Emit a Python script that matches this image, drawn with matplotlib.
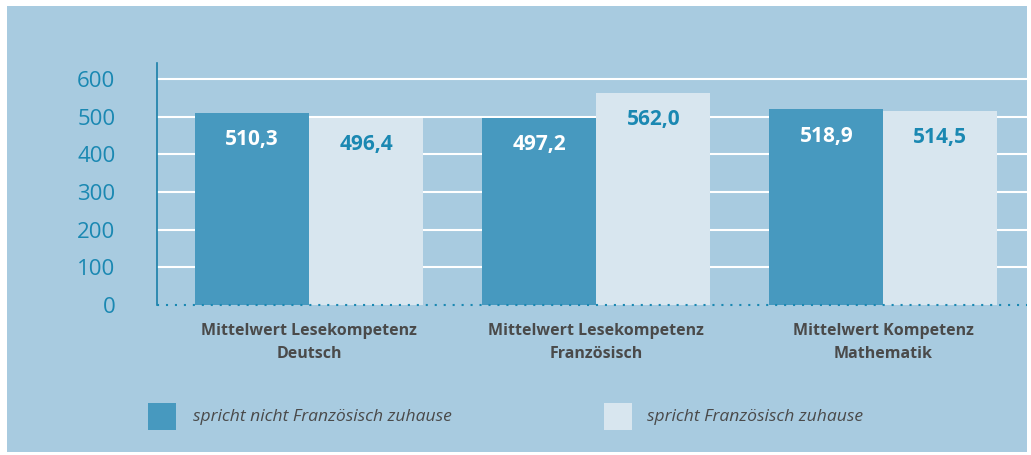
import matplotlib.pyplot as plt
import numpy as np
from matplotlib.patches import Rectangle

categories = ['Mittelwert Lesekompetenz\nDeutsch',
              'Mittelwert Lesekompetenz\nFranzösisch',
              'Mittelwert Kompetenz\nMathematik']
nicht_franz = [510.3, 497.2, 518.9]
franz = [496.4, 562.0, 514.5]
series_names = ['spricht nicht Französisch zuhause', 'spricht Französisch zuhause']
yticks = [0, 100, 200, 300, 400, 500, 600]

bg = '#a8cbe0'
dark = '#4799bf'
light = '#d8e6ef'
blue_txt = '#1a88b2'
grey_txt = '#4a4a4a'

plt.rcParams['font.family'] = ['Open Sans', 'DejaVu Sans']

fig = plt.figure(figsize=(10.31, 4.55), dpi=100)
fig.patch.set_facecolor('white')
fig.patches.append(Rectangle((7 / 1031, 3 / 455), 1020 / 1031, 446 / 455,
                             transform=fig.transFigure, facecolor=bg,
                             edgecolor='none', zorder=-10))

ax = fig.add_axes([157 / 1031, 1 - 305 / 455, 870 / 1031, 242 / 455])
ax.set_facecolor('none')

x = np.arange(len(categories))
w = 0.397
ax.bar(x - w / 2, nicht_franz, w, color=dark, zorder=3)
ax.bar(x + w / 2, franz, w, color=light, zorder=3)

for xi, v in zip(x, nicht_franz):
    ax.text(xi - w / 2, v - 72, f'{v:.1f}'.replace('.', ','), ha='center', va='center',
            color='white', fontsize=15, fontweight='bold', zorder=4)
for xi, v in zip(x, franz):
    ax.text(xi + w / 2, v - 70, f'{v:.1f}'.replace('.', ','), ha='center', va='center',
            color=blue_txt, fontsize=15, fontweight='bold', zorder=4)

ax.set_xlim(-0.53, 2.5)
ax.set_ylim(0, 642)
ax.set_yticks(yticks)
ax.set_yticklabels([str(t) for t in yticks], color=blue_txt, fontsize=16)
ax.tick_params(axis='y', length=0, pad=30)
ax.set_xticks(x)
ax.set_xticklabels(categories, color=grey_txt, fontsize=11.5, fontweight='bold',
                   linespacing=1.55)
ax.tick_params(axis='x', length=0, pad=13)

for t in yticks[1:]:
    ax.axhline(t, color='white', lw=1.5, zorder=1)
ax.axhline(0, color=blue_txt, lw=1.5, ls=(0, (1, 3.3)), zorder=5, clip_on=False)

for s in ['top', 'right', 'bottom']:
    ax.spines[s].set_visible(False)
ax.spines['left'].set_color('#1a7fa8')
ax.spines['left'].set_linewidth(1.2)

# legend
fig.patches.append(Rectangle((148 / 1031, 1 - 430 / 455), 28 / 1031, 27 / 455,
                             transform=fig.transFigure, facecolor=dark, edgecolor='none'))
fig.text(193 / 1031, 1 - 417 / 455, series_names[0], ha='left', va='center',
         color=grey_txt, fontsize=12.6, style='italic')
fig.patches.append(Rectangle((604 / 1031, 1 - 430 / 455), 28 / 1031, 27 / 455,
                             transform=fig.transFigure, facecolor=light, edgecolor='none'))
fig.text(647 / 1031, 1 - 417 / 455, series_names[1], ha='left', va='center',
         color=grey_txt, fontsize=12.6, style='italic')

fig.savefig('out.png', dpi=100, facecolor=fig.get_facecolor())
